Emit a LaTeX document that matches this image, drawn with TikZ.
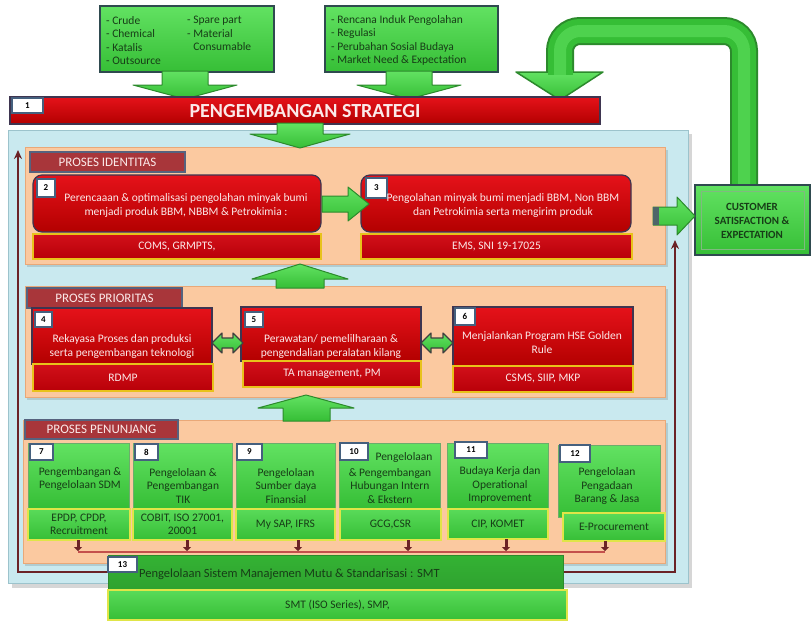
\documentclass[tikz,border=0pt]{standalone}
\usepackage{fontspec}
\setmainfont{Carlito}
\usetikzlibrary{calc,arrows.meta}

\definecolor{skyPanel}{HTML}{C9E9EF}
\definecolor{skyEdge}{HTML}{9CC3CC}
\definecolor{peach}{HTML}{FBC9A0}
\definecolor{peachEdge}{HTML}{E9A878}
\definecolor{tabRed}{HTML}{A8363A}
\definecolor{tabEdge}{HTML}{56627E}
\definecolor{redTop}{HTML}{E5121A}
\definecolor{redBot}{HTML}{B30000}
\definecolor{redEdge}{HTML}{3E3550}
\definecolor{subRedTop}{HTML}{D2101A}
\definecolor{subRedBot}{HTML}{B80008}
\definecolor{goldEdge}{HTML}{E8C21A}
\definecolor{grTop}{HTML}{62E262}
\definecolor{grBot}{HTML}{36BE36}
\definecolor{grEdge}{HTML}{2C8A2C}
\definecolor{grDeep}{HTML}{34B334}
\definecolor{slateEdge}{HTML}{2F4A4F}
\definecolor{limeEdge}{HTML}{E0E548}
\definecolor{txtGreen}{HTML}{173D17}
\definecolor{labEdge}{HTML}{45607E}
\definecolor{loopBrown}{HTML}{6B2226}
\definecolor{feedRed}{HTML}{C4504C}
\definecolor{palePink}{HTML}{FBE9E9}

\newcommand\myBody{\fontsize{11.5}{14}\selectfont}
\newcommand\myGreen{\fontsize{11.5}{13.6}\selectfont}
\newcommand\myTab{\fontsize{13}{14}\selectfont}
\newcommand\myLab{\bfseries\fontsize{9}{10}\selectfont}
\newcommand\myTitle{\bfseries\fontsize{20}{22}\selectfont}
\newcommand\myCust{\bfseries\fontsize{11}{13.8}\selectfont}

% box from its top-left to its bottom-right corner (pixel-like units)
\newcommand\bx[7]{%
  \pgfmathsetmacro\bxw{#5-#3}\pgfmathsetmacro\bxh{#6-#4}%
  \node[#1,anchor=north west,inner sep=0pt,outer sep=0pt,
        minimum width=\bxw pt,minimum height=\bxh pt] (#2) at (#3,#4) {#7};}

\tikzset{
  skypanel/.style={fill=skyPanel,draw=skyEdge,line width=1pt},
  peachpanel/.style={fill=peach,draw=peachEdge,line width=0.8pt},
  tabbox/.style={fill=tabRed,draw=tabEdge,line width=1.2pt,text=palePink,font=\myTab},
  redbox/.style={top color=redTop,bottom color=redBot,draw=redEdge,line width=1.2pt},
  redround/.style={redbox,rounded corners=9pt},
  redsub/.style={top color=subRedTop,bottom color=subRedBot,draw=goldEdge,line width=1.3pt,
    text=palePink,font=\myBody},
  grnbox/.style={top color=grTop,bottom color=grBot,draw=grEdge!70,line width=0.8pt},
  grnsub/.style={top color=grTop!80!grBot,bottom color=grBot,draw=limeEdge,line width=1.3pt,
    text=txtGreen,font=\myGreen,align=center},
  inbox/.style={top color=grTop,bottom color=grBot,draw=slateEdge,line width=2.2pt},
  labbox/.style={fill=white,draw=labEdge,line width=1.2pt,font=\myLab},
  whitetxt/.style={text=palePink,align=center,font=\myBody,inner sep=0pt},
  greentxt/.style={text=txtGreen,align=center,font=\myGreen,inner sep=0pt},
  blockarrow/.style={top color=grTop,bottom color=grBot,draw=grEdge,line width=1pt,line join=round},
  twinarrow/.style={top color=grTop,bottom color=grBot,draw=black!75,line width=1.1pt,line join=round},
  loopline/.style={draw=loopBrown,line width=1.8pt,arrows={Stealth[length=9pt,width=8pt]-Stealth[length=9pt,width=8pt]}},
  feedline/.style={draw=feedRed,line width=2.5pt},
  dropline/.style={draw=loopBrown,line width=3pt,-{Triangle[length=4pt,width=8pt]}},
}

\begin{document}
\begin{tikzpicture}[x=1pt,y=-1pt]
\useasboundingbox (0,0) rectangle (812,621);

% ---------- outer panel and feedback loop ----------
\fill[black,opacity=0.16] (12,134) rectangle (692,588);
\bx{skypanel}{bluep}{8}{130}{688}{583}{}

\coordinate (lpTop) at (18,150);
\coordinate (lpBL)  at (18,572);
\coordinate (lpBR)  at (675,572);
\coordinate (lpTip) at (675,240);
\draw[loopline] (lpTop) -- (lpBL) -- (lpBR) -- (lpTip);

% ---------- process bands ----------
\fill[black,opacity=0.12] (27,150) rectangle (668,267);
\bx{peachpanel}{pIdent}{25}{147}{665}{264}{}
\fill[black,opacity=0.12] (27,289) rectangle (668,400);
\bx{peachpanel}{pPrio}{25}{286}{665}{397}{}
\fill[black,opacity=0.12] (25,423) rectangle (668,566);
\bx{peachpanel}{pSupp}{23}{420}{665}{563}{}

\bx{tabbox}{tIdent}{30}{152}{185}{172}{PROSES IDENTITAS}
\bx{tabbox}{tPrio}{27}{288}{182}{308}{PROSES PRIORITAS}
\bx{tabbox}{tSupp}{25}{420}{178}{439}{PROSES PENUNJANG}

% ---------- inputs and strategy ----------
\bx{inbox}{in1}{100}{6}{274}{72}{}
\bx{inbox}{in2}{325}{6}{498}{72}{}
\node[anchor=west,align=left,text=txtGreen,font=\myGreen,inner sep=0pt] (in1a) at (106,40.5)
  {- Crude\\- Chemical\\- Katalis\\- Outsource};
\node[anchor=west,align=left,text=txtGreen,font=\myGreen,inner sep=0pt] (in1b) at (187,33.5)
  {- Spare part\\- Material\\\hphantom{- }Consumable};
\node[anchor=west,align=left,text=txtGreen,font=\myGreen,inner sep=0pt] (in2a) at (331,40.5)
  {- Rencana Induk Pengolahan\\- Regulasi\\- Perubahan Sosial Budaya\\- Market Need \& Expectation};

% input arrows into the strategy bar
\path[blockarrow] (162,71) -- (162,85) -- (133,85) -- (185,99) -- (237,85) -- (208,85) -- (208,71) -- cycle;
\path[blockarrow] (386,71) -- (386,85) -- (357,85) -- (409,99) -- (461,85) -- (432,85) -- (432,71) -- cycle;

% customer feedback arrow (drawn before the boxes it joins)
\coordinate (fbStart) at (744,190);
\coordinate (fbEnd) at (560,73);
\draw[line width=28pt,draw=grEdge,rounded corners=20pt] (fbStart) |- (560,31) -- (fbEnd);
\draw[line width=24pt,draw=grBot,rounded corners=20pt] (fbStart) |- (560,31) -- (fbEnd);
\draw[line width=12pt,draw=grTop!55!grBot,rounded corners=20pt] (fbStart) |- (560,31) -- (fbEnd);
\path[blockarrow,line width=1.5pt] (516,72) -- (560,100) -- (603,72) -- cycle;
\fill[grBot] (547.5,70) rectangle (572.5,74.5);
\fill[grTop!55!grBot] (554,70) rectangle (566,74.5);

\bx{redbox}{strat}{10}{97}{600}{124}{}
\node[font=\myTitle,text=palePink] (stratT) at (305,111.5) {PENGEMBANGAN STRATEGI};
\bx{labbox}{l1}{12}{98}{43}{113}{1}

% strategy down into the identity band
\path[blockarrow] (277,123) -- (277,134) -- (250,134) -- (300,148) -- (350,134) -- (323,134) -- (323,123) -- cycle;

% ---------- identity processes ----------
\bx{redround}{b2}{33}{175}{321}{232}{}
\bx{redsub}{s2}{33}{234}{321}{259}{COMS, GRMPTS,}
\bx{labbox}{l2}{37}{179}{55}{197}{2}
\node[whitetxt] (b2t) at (186,205)
  {Perencaaan \& optimalisasi pengolahan minyak bumi\\menjadi produk BBM, NBBM \& Petrokimia :};

\bx{redround}{b3}{361}{175}{631}{232}{}
\bx{redsub}{s3}{361}{234}{632}{259}{EMS, SNI 19-17025}
\bx{labbox}{l3}{366}{178}{387}{198}{3}
\node[whitetxt] (b3t) at (503,205)
  {Pengolahan minyak bumi menjadi BBM, Non BBM\\dan Petrokimia serta mengirim produk};

\path[blockarrow] (322,196) -- (348,196) -- (348,187) -- (369,204) -- (348,221) -- (348,212) -- (322,212) -- cycle;

% ---------- customer ----------
\bx{inbox}{cust}{695}{185}{810}{255}{}
\draw[draw=grEdge!60,line width=0.6pt] ($(cust.north west)+(6,6)$) rectangle ($(cust.south east)+(-6,-6)$);
\node[text=txtGreen,font=\myCust,align=center] (custT) at (752,221) {CUSTOMER\\SATISFACTION \&\\EXPECTATION};
\path[blockarrow] (653,207) -- (677,207) -- (677,197) -- (695,216) -- (677,235) -- (677,225) -- (653,225) -- cycle;
\fill[slateEdge!85] (653,207) rectangle (659,225);

% band to band arrows
\path[blockarrow] (276,288) -- (276,279) -- (252,279) -- (300,264) -- (348,279) -- (324,279) -- (324,288) -- cycle;
\path[blockarrow] (283,421) -- (283,408) -- (258,408) -- (306,395) -- (354,408) -- (330,408) -- (330,421) -- cycle;

% ---------- priority processes ----------
\bx{redbox}{b4}{32}{308}{212}{364}{}
\bx{redsub}{s4}{33}{364}{213}{391}{RDMP}
\bx{labbox}{l4}{35}{312}{52}{327}{4}
\node[whitetxt] (b4t) at (122,346) {Rekayasa Proses dan produksi\\serta pengembangan teknologi};

\bx{redbox}{b5}{241}{307}{421}{361}{}
\bx{redsub}{s5}{243}{361}{421}{387}{TA management, PM}
\bx{labbox}{l5}{245}{312}{263}{327}{5}
\node[whitetxt] (b5t) at (331,346) {Perawatan/ pemelilharaan \&\\pengendalian peralatan kilang};

\bx{redbox}{b6}{453}{307}{633}{366}{}
\bx{redsub}{s6}{453}{366}{633}{392}{CSMS, SIIP, MKP}
\bx{labbox}{l6}{455}{308}{475}{325}{6}
\node[whitetxt] (b6t) at (542,343) {Menjalankan Program HSE Golden\\Rule};

\path[twinarrow] (212,343) -- (222,333) -- (222,338) -- (233,338) -- (233,333) -- (243,343)
  -- (233,353) -- (233,348) -- (222,348) -- (222,353) -- cycle;
\path[twinarrow] (421,343) -- (431,333) -- (431,338) -- (443,338) -- (443,333) -- (453,343)
  -- (443,353) -- (443,348) -- (431,348) -- (431,353) -- cycle;

% ---------- supporting processes ----------
\bx{grnbox}{g7}{28}{443}{129}{508}{}
\bx{grnsub}{gs7}{28}{509}{130}{540}{EPDP, CPDP,\\Recruitment}
\bx{labbox}{l7}{30}{444}{53}{460}{7}
\node[greentxt] (g7t) at (80,479) {Pengembangan \&\\Pengelolaan SDM};

\bx{grnbox}{g8}{133}{443}{232}{508}{}
\bx{grnsub}{gs8}{133}{509}{232}{540}{COBIT, ISO 27001,\\20001}
\bx{labbox}{l8}{135}{444}{158}{460}{8}
\node[greentxt] (g8t) at (183,486) {Pengelolaan \&\\Pengembangan\\TIK};

\bx{grnbox}{g9}{236}{443}{335}{508}{}
\bx{grnsub}{gs9}{236}{509}{335}{540}{My SAP, IFRS}
\bx{labbox}{l9}{237}{444}{262}{460}{9}
\node[greentxt] (g9t) at (286,486) {Pengelolaan\\Sumber daya\\Finansial};

\bx{grnbox}{g10}{339}{443}{440}{508}{}
\bx{grnsub}{gs10}{340}{509}{441}{540}{GCG,CSR}
\bx{labbox}{l10}{340}{443}{368}{460}{10}
\node[greentxt] (g10a) at (404,457) {Pengelolaan};
\node[greentxt] (g10t) at (390,486) {\& Pengembangan\\Hubungan Intern\\\& Ekstern};

\bx{grnbox}{g11}{447}{443}{548}{508}{}
\bx{grnsub}{gs11}{448}{509}{548}{539}{CIP, KOMET}
\bx{labbox}{l11}{455}{442}{487}{458}{11}
\node[greentxt] (g11t) at (500,485) {Budaya Kerja dan\\Operational\\Improvement};

\bx{grnbox}{g12}{558}{445}{660}{517}{}
\bx{grnsub}{gs12}{563}{513}{665}{541}{E-Procurement}
\bx{labbox}{l12}{560}{445}{590}{462}{12}
\node[greentxt] (g12t) at (607,486) {Pengelolaan\\Pengadaan\\Barang \& Jasa};

% collection line feeding the quality system
\coordinate (dl7) at (78,552);
\coordinate (dl8) at (187,552);
\coordinate (dl9) at (298,552);
\coordinate (dl10) at (408,552);
\coordinate (dl11) at (506,552);
\coordinate (dl12) at (605,552);
\draw[feedline] (dl7) -- (dl12);
\foreach \k in {7,8,9,10,11,12}
  \draw[dropline] (gs\k.south -| dl\k) -- ([yshift=1pt]dl\k);

% ---------- quality management system ----------
\bx{grnbox,top color=grDeep,bottom color=grDeep!90!black,draw=grEdge}{b13}{108}{555}{563}{590}{}
\bx{grnsub,font=\fontsize{11.5}{13}\selectfont}{s13}{108}{590}{567}{620}{SMT (ISO Series), SMP,}
\bx{labbox}{l13}{108}{557}{137}{572}{13}
\node[anchor=west,text=txtGreen,font=\fontsize{12.5}{14}\selectfont,inner sep=0pt] (b13t) at (139,574)
  {Pengelolaan Sistem Manajemen Mutu \& Standarisasi : SMT};

\end{tikzpicture}
\end{document}
